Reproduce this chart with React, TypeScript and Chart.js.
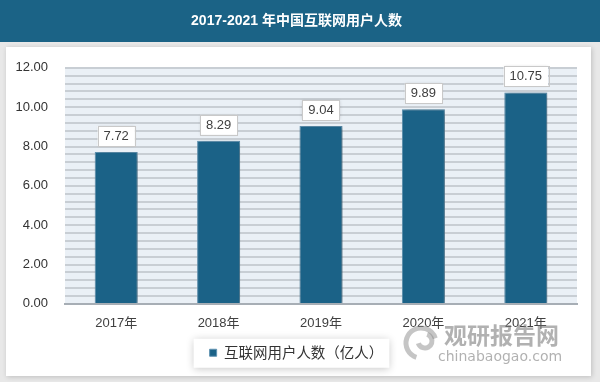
import { useEffect, useRef } from 'react';
import { Chart, registerables } from 'chart.js';

Chart.register(...registerables);

const categories = ['2017年', '2018年', '2019年', '2020年', '2021年'];
const users = [7.72, 8.29, 9.04, 9.89, 10.75];
const seriesName = '互联网用户人数（亿人）';
const chartTitle = '2017-2021 年中国互联网用户人数';
const yMin = 0;
const yMax = 12;
const gridStep = 0.4;
const labelStep = 2;
const watermarkCn = '观研报告网';
const watermarkEn = 'chinabaogao.com';

const FONT = '"Liberation Sans", "Noto Sans CJK SC", sans-serif';
const BAR = '#1b6287';

const decorPlugin = {
  id: 'decor',
  beforeDraw(chart: any) {
    const { ctx, chartArea } = chart;
    ctx.save();
    ctx.fillStyle = '#e8e8e8';
    ctx.fillRect(0, 0, 600, 382);
    ctx.shadowColor = 'rgba(0,0,0,0.18)';
    ctx.shadowBlur = 5;
    ctx.shadowOffsetX = 1;
    ctx.shadowOffsetY = 1;
    ctx.fillStyle = '#ffffff';
    ctx.fillRect(6, 47, 585, 329);
    ctx.shadowColor = 'transparent';
    ctx.fillStyle = '#1b6386';
    ctx.fillRect(0, 0, 600, 42);
    ctx.fillStyle = '#eaf0f6';
    ctx.fillRect(chartArea.left, chartArea.top, chartArea.right - chartArea.left, chartArea.bottom - chartArea.top);
    const lg = chart.legend;
    if (lg && lg.legendHitBoxes && lg.legendHitBoxes.length) {
      const hb = lg.legendHitBoxes[0];
      const cy = hb.top + hb.height / 2;
      ctx.shadowColor = 'rgba(0,0,0,0.22)';
      ctx.shadowBlur = 8;
      ctx.shadowOffsetX = 0;
      ctx.shadowOffsetY = 1;
      ctx.fillStyle = '#ffffff';
      ctx.fillRect(hb.left - 16, cy - 14, hb.width + 22, 29);
    }
    ctx.restore();
  },
  beforeDatasetsDraw(chart: any) {
    const { ctx } = chart;
    ctx.save();
    ctx.shadowColor = 'rgba(0,0,0,0.35)';
    ctx.shadowBlur = 5;
    ctx.shadowOffsetX = 2;
    ctx.shadowOffsetY = 1;
  },
  afterDatasetsDraw(chart: any) {
    const { ctx } = chart;
    ctx.restore();
    const meta = chart.getDatasetMeta(0);
    const data = chart.data.datasets[0].data as number[];
    ctx.save();
    ctx.font = '13px ' + FONT;
    ctx.textAlign = 'center';
    ctx.textBaseline = 'middle';
    meta.data.forEach((el: any, i: number) => {
      const txt = data[i].toFixed(2);
      const w = ctx.measureText(txt).width + 12;
      const h = 20;
      const bottom = el.y - 6;
      const x = el.x - w / 2;
      ctx.save();
      ctx.shadowColor = 'rgba(0,0,0,0.15)';
      ctx.shadowBlur = 3;
      ctx.fillStyle = '#ffffff';
      ctx.fillRect(x, bottom - h, w, h);
      ctx.restore();
      ctx.strokeStyle = '#c9c9c9';
      ctx.lineWidth = 1;
      ctx.strokeRect(Math.round(x) + 0.5, Math.round(bottom - h) + 0.5, Math.round(w), h);
      ctx.fillStyle = '#404040';
      ctx.fillText(txt, el.x, bottom - h / 2 + 0.5);
    });
    ctx.restore();
  },
  afterDraw(chart: any) {
    const { ctx } = chart;
    ctx.save();
    ctx.strokeStyle = 'rgba(140,140,140,0.5)';
    ctx.lineWidth = 5;
    ctx.beginPath();
    ctx.arc(421, 343, 15, Math.PI * 0.6, Math.PI * 1.9);
    ctx.stroke();
    ctx.beginPath();
    ctx.arc(425, 341, 7, Math.PI * 1.6, Math.PI * 0.9);
    ctx.stroke();
    ctx.fillStyle = 'rgba(125,125,125,0.6)';
    ctx.textAlign = 'left';
    ctx.textBaseline = 'middle';
    ctx.font = 'bold 23px "Noto Sans CJK SC", sans-serif';
    ctx.fillText(watermarkCn, 444, 335);
    ctx.font = '14px "DejaVu Sans", sans-serif';
    ctx.fillText(watermarkEn, 438, 357);
    ctx.restore();
  },
};

export default function App() {
  const ref = useRef<HTMLCanvasElement>(null);
  useEffect(() => {
    const chart = new Chart(ref.current!, {
      type: 'bar',
      data: {
        labels: categories,
        datasets: [
          {
            label: seriesName,
            data: users,
            backgroundColor: BAR,
            borderColor: '#5f93b2',
            borderWidth: 1,
            categoryPercentage: 1,
            barPercentage: 0.42,
          },
        ],
      },
      options: {
        responsive: false,
        animation: false,
        devicePixelRatio: 1,
        layout: { padding: { left: 16, right: 23, top: 0, bottom: 12 } },
        plugins: {
          title: {
            display: true,
            text: chartTitle,
            color: '#ffffff',
            font: { size: 14, weight: 'bold', family: FONT },
            padding: { top: 13, bottom: 38 },
          },
          legend: {
            display: true,
            position: 'bottom',
            labels: {
              boxWidth: 7,
              boxHeight: 7,
              padding: 2,
              color: '#333333',
              font: { size: 14.5, family: '"Noto Sans CJK SC", sans-serif' },
            },
          },
          tooltip: { enabled: false },
        },
        scales: {
          x: {
            grid: { display: false, drawTicks: false },
            border: { display: true, color: '#a7aeb5', width: 2 },
            ticks: { color: '#404040', padding: 12, font: { size: 13, family: FONT } },
          },
          y: {
            min: yMin,
            max: yMax,
            afterFit(scale: any) {
              scale.width = 49;
            },
            grid: { color: '#c8ced4', lineWidth: 2, drawTicks: false },
            border: { display: false },
            ticks: {
              stepSize: gridStep,
              autoSkip: false,
              padding: 17,
              color: '#333333',
              font: { size: 13, family: FONT },
              callback: (v: any) => {
                const r = Number(v) / labelStep;
                return Math.abs(r - Math.round(r)) < 1e-6 ? Number(v).toFixed(2) : '';
              },
            },
          },
        },
      },
      plugins: [decorPlugin],
    });
    return () => chart.destroy();
  }, []);
  return (
    <div style={{ position: 'absolute', left: 0, top: 0, width: 600, height: 382 }}>
      <canvas ref={ref} width={600} height={382} />
    </div>
  );
}
